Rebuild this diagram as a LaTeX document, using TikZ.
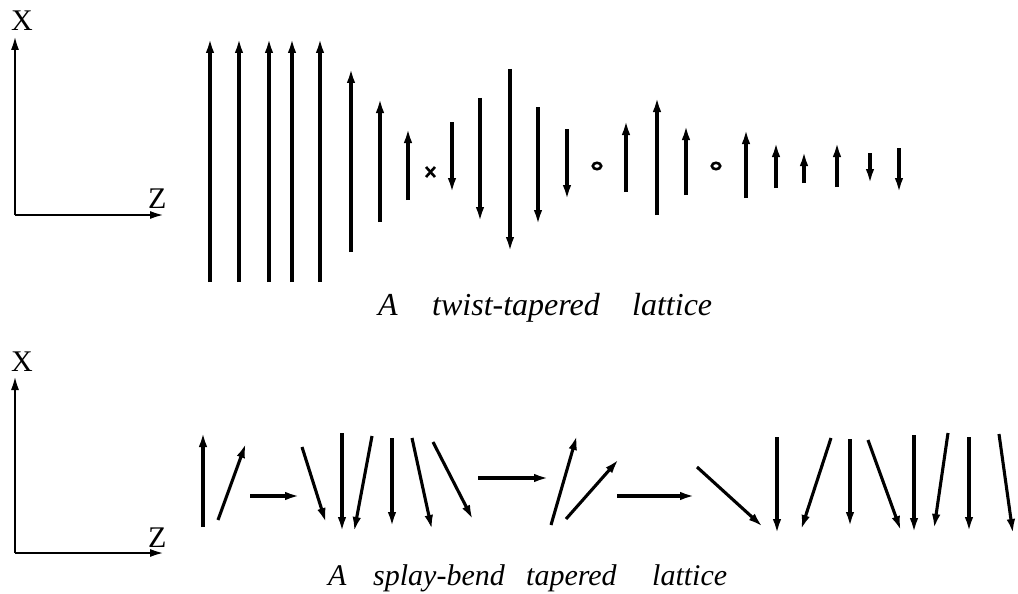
\documentclass[tikz,border=0pt]{standalone}
\usepackage{fontspec}
\setmainfont{Liberation Serif}
\usetikzlibrary{arrows.meta}
\begin{document}
\begin{tikzpicture}[x=1pt,y=-1pt,
  vec/.style={line width=3.1pt,-{Latex[length=15pt,width=8.5pt]}},
  axarrow/.style={line width=2.8pt,-{Latex[length=15pt,width=8pt]}},
  axlabel/.style={anchor=base west,inner sep=0pt,font=\fontsize{30}{30}\selectfont},
  captop/.style={anchor=base west,inner sep=0pt,font=\fontsize{32}{32}\selectfont\itshape},
  capbot/.style={anchor=base west,inner sep=0pt,font=\fontsize{30}{30}\selectfont\itshape},
  dotmark/.style={line width=2.6pt}
]
\useasboundingbox (0,0) rectangle (1018,594);
% ---- top panel axes
\coordinate (o1) at (15,215);
\coordinate (x1) at (15,35);
\coordinate (z1) at (165,215);
\draw[axarrow] (o1) -- (x1);
\draw[axarrow] (o1) -- (z1);
\node[axlabel] (X1) at (11,31) {X};
\node[axlabel] (Z1) at (148,208) {Z};
% ---- twist-tapered lattice
\foreach \x/\a/\b in {210/282/38,239/282/38,269/282/38,292/282/38,320/282/38,
  351/252/68,380/222/98,408/200/128,452/122/193,480/98/222,510/69/252,
  538/107/225,567/129/200,626/192/120,657/215/97,686/195/125,746/198/129,
  776/188/142,804/183/151,837/187/142,870/153/184,899/148/193}
  \draw[vec] (\x,\a) -- (\x,\b);
\draw[dotmark] (426,167) -- (435,177) (435,167) -- (426,177);
\draw[dotmark] (597,166) ellipse [x radius=4.2, y radius=3.2];
\draw[dotmark] (716,166) ellipse [x radius=4.2, y radius=3.2];
\node[captop] (t1) at (378,315) {A};
\node[captop] (t2) at (432,315) {twist-tapered};
\node[captop] (t3) at (632,315) {lattice};
% ---- bottom panel axes
\coordinate (o2) at (15,553);
\coordinate (x2) at (15,375);
\coordinate (z2) at (165,553);
\draw[axarrow] (o2) -- (x2);
\draw[axarrow] (o2) -- (z2);
\node[axlabel] (X2) at (11,371) {X};
\node[axlabel] (Z2) at (148,547) {Z};
% ---- splay-bend lattice
\foreach \ax/\ay/\bx/\by in {203/527/203/432,218/520/246/443,250/496/300/496,
  302/447/326/523,342/433/342/532,372/436/354/532,392/438/392/527,
  412/438/432/530,433/442/473/520,478/478/549/478,551/525/577/435,
  566/519/619/459,617/496/695/496,697/467/763/527,777/437/777/534,
  831/438/801/530,850/439/850/527,868/440/901/531,914/435/914/533,
  948/433/934/529,969/437/969/532,999/434/1013/534}
  \draw[vec] (\ax,\ay) -- (\bx,\by);
\node[capbot] (b1) at (328,585) {A};
\node[capbot] (b2) at (373,585) {splay-bend};
\node[capbot] (b3) at (526,585) {tapered};
\node[capbot] (b4) at (652,585) {lattice};
\end{tikzpicture}
\end{document}
